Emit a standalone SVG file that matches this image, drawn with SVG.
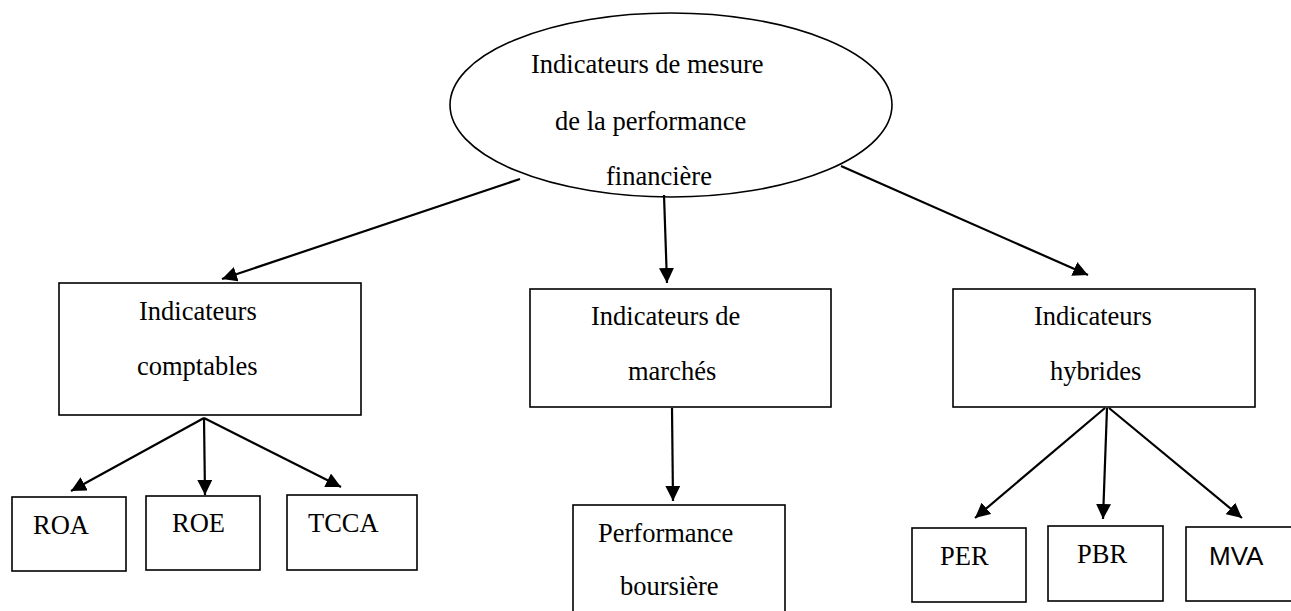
<svg xmlns="http://www.w3.org/2000/svg" width="1291" height="611" viewBox="0 0 1291 611">
<style>
.box{fill:#fff;stroke:#000;stroke-width:1.6}
.t{font-family:"Liberation Serif","Times New Roman",serif;font-size:26.5px;fill:#000}
.s{font-family:"Liberation Sans",Arial,sans-serif;font-size:26px;fill:#000}
.c{stroke:#000;stroke-width:2.2;fill:none;marker-end:url(#ah)}
</style>
<defs>
<marker id="ah" viewBox="0 0 14 14" refX="14" refY="7" markerWidth="15" markerHeight="15" markerUnits="userSpaceOnUse" orient="auto">
<path d="M0,0 L14,7 L0,14 z" fill="#000"/>
</marker>
</defs>
<rect width="1291" height="611" fill="#fff"/>
<g id="connectors">
<line class="c" x1="520" y1="179" x2="222" y2="279"/>
<line class="c" x1="664" y1="195" x2="667" y2="283"/>
<line class="c" x1="841" y1="166" x2="1088" y2="275"/>
<line class="c" x1="204" y1="418" x2="71" y2="491"/>
<line class="c" x1="204" y1="418" x2="205" y2="495"/>
<line class="c" x1="204" y1="418" x2="341" y2="487"/>
<line class="c" x1="672" y1="408" x2="673" y2="501"/>
<line class="c" x1="1105" y1="408" x2="975" y2="518"/>
<line class="c" x1="1107" y1="408" x2="1103" y2="519"/>
<line class="c" x1="1109" y1="408" x2="1242" y2="518"/>
</g>
<g id="root">
<ellipse cx="671" cy="105" rx="221" ry="92" fill="none" stroke="#000" stroke-width="1.6"/>
<text class="t" x="531" y="73">Indicateurs de mesure</text>
<text class="t" x="555" y="130">de la performance</text>
<text class="t" x="606" y="185">financière</text>
</g>
<g id="comptables">
<rect class="box" x="59" y="283" width="302" height="132"/>
<text class="t" x="139" y="320">Indicateurs</text>
<text class="t" x="137" y="375">comptables</text>
</g>
<g id="marches">
<rect class="box" x="530" y="289" width="301" height="118"/>
<text class="t" x="591" y="325">Indicateurs de</text>
<text class="t" x="628" y="380">marchés</text>
</g>
<g id="hybrides">
<rect class="box" x="953" y="289" width="302" height="118"/>
<text class="t" x="1034" y="325">Indicateurs</text>
<text class="t" x="1050" y="380">hybrides</text>
</g>
<g id="roa">
<rect class="box" x="12" y="497" width="114" height="74"/>
<text class="t" x="33" y="534">ROA</text>
</g>
<g id="roe">
<rect class="box" x="146" y="496" width="114" height="74"/>
<text class="t" x="172" y="532">ROE</text>
</g>
<g id="tcca">
<rect class="box" x="287" y="495" width="130" height="75"/>
<text class="t" x="308" y="532">TCCA</text>
</g>
<g id="performance">
<rect class="box" x="573" y="505" width="212" height="120"/>
<text class="t" x="598" y="542">Performance</text>
<text class="t" x="620" y="595">boursière</text>
</g>
<g id="per">
<rect class="box" x="912" y="528" width="114" height="74"/>
<text class="t" x="940" y="565">PER</text>
</g>
<g id="pbr">
<rect class="box" x="1048" y="526" width="115" height="75"/>
<text class="t" x="1077" y="563">PBR</text>
</g>
<g id="mva">
<rect class="box" x="1186" y="527" width="110" height="74"/>
<text class="s" x="1209" y="565">MVA</text>
</g>
</svg>
